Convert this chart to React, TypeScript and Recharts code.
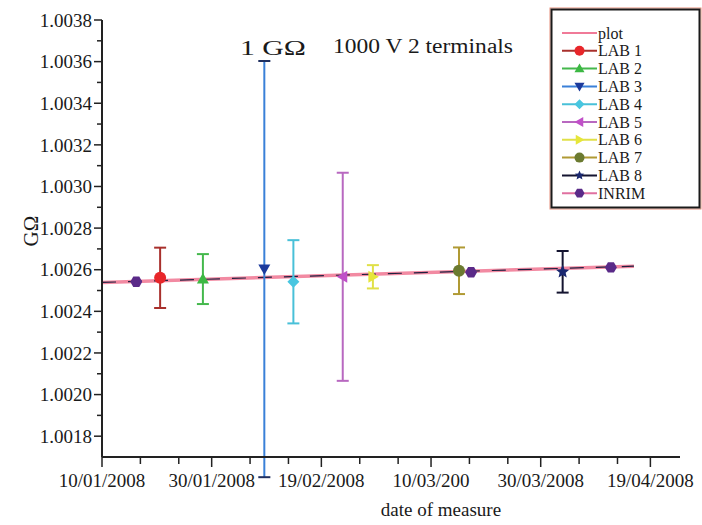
import React from 'react';
import { ComposedChart, XAxis, YAxis, Scatter, Line, ErrorBar, ReferenceLine } from 'recharts';

// ---- data (x = days after 10/01/2008) ----
const LAB_NAMES = ['LAB 1', 'LAB 2', 'LAB 3', 'LAB 4', 'LAB 5', 'LAB 6', 'LAB 7', 'LAB 8'];
const LAB_DAYS = [10.6, 18.4, 29.6, 34.9, 43.9, 49.4, 65.1, 84.0];
const LAB_VALUES = [1.002561, 1.002555, 1.002603, 1.002542, 1.002566, 1.002566, 1.002595, 1.00259];
const LAB_UNCERTAINTY = [0.000145, 0.00012, 0.001, 0.0002, 0.0005, 0.000056, 0.000112, 0.0001];

const INRIM_NAME = 'INRIM';
const INRIM_DAYS = [6.25, 67.3, 92.8];
const INRIM_VALUES = [1.002542, 1.002588, 1.002611];

const FIT_NAME = 'plot';
const FIT_DAYS = [0, 97];
const FIT_VALUES = [1.002539, 1.002617];

const X_MAJOR_TICKS = [0, 20, 40, 60, 80, 100];
const X_MINOR_TICKS = [7, 14, 27, 34, 47, 54, 67, 74, 87, 94];
const X_TICK_LABELS = ['10/01/2008', '30/01/2008', '19/02/2008', '10/03/200', '30/03/2008', '19/04/2008'];
const Y_MAJOR_TICKS = [1.0018, 1.002, 1.0022, 1.0024, 1.0026, 1.0028, 1.003, 1.0032, 1.0034, 1.0036, 1.0038];
const Y_MINOR_TICKS = [1.0019, 1.0021, 1.0023, 1.0025, 1.0027, 1.0029, 1.0031, 1.0033, 1.0035, 1.0037];

// ---- styles ----
const LAB_SHAPES = ['circle', 'triangleUp', 'triangleDown', 'diamond', 'triangleLeft', 'triangleRight', 'circle', 'star'];
const LAB_MARKER_COLORS = ['#e8262a', '#3cb843', '#1c3a9c', '#48c6e0', '#c050c8', '#e6e63a', '#6b7a30', '#1a2870'];
const LAB_BAR_COLORS = ['#a8302c', '#44b84c', '#3a80d8', '#48c0d8', '#b868c0', '#e0e048', '#b09a34', '#141430'];
const INRIM_COLOR = '#5a2a88';
const FONT = '"Liberation Serif", "Times New Roman", serif';
const AXIS_COLOR = '#222';

const labData = LAB_NAMES.map((_, i) => [{ x: LAB_DAYS[i], y: LAB_VALUES[i], err: LAB_UNCERTAINTY[i] }]);
const inrimData = INRIM_DAYS.map((d, i) => ({ x: d, y: INRIM_VALUES[i] }));
const fitData = FIT_DAYS.map((d, i) => ({ x: d, y: FIT_VALUES[i] }));
const X_TICKS = [...X_MAJOR_TICKS, ...X_MINOR_TICKS].sort((a, b) => a - b);
const Y_TICKS = [...Y_MAJOR_TICKS, ...Y_MINOR_TICKS].sort((a, b) => a - b);

function MarkerShape({ shape, cx, cy, fill, r = 6 }: any) {
  if (cx == null || cy == null) return null;
  switch (shape) {
    case 'circle':
      return <circle cx={cx} cy={cy} r={r} fill={fill} />;
    case 'triangleUp':
      return <polygon points={`${cx},${cy - r} ${cx + r},${cy + r * 0.75} ${cx - r},${cy + r * 0.75}`} fill={fill} />;
    case 'triangleDown':
      return <polygon points={`${cx},${cy + r} ${cx + r},${cy - r * 0.75} ${cx - r},${cy - r * 0.75}`} fill={fill} />;
    case 'triangleLeft':
      return <polygon points={`${cx - r},${cy} ${cx + r * 0.75},${cy - r} ${cx + r * 0.75},${cy + r}`} fill={fill} />;
    case 'triangleRight':
      return <polygon points={`${cx + r},${cy} ${cx - r * 0.75},${cy - r} ${cx - r * 0.75},${cy + r}`} fill={fill} />;
    case 'diamond':
      return <polygon points={`${cx},${cy - r} ${cx + r},${cy} ${cx},${cy + r} ${cx - r},${cy}`} fill={fill} />;
    case 'star': {
      const pts: string[] = [];
      for (let k = 0; k < 10; k++) {
        const rad = k % 2 === 0 ? r : r * 0.45;
        const a = -Math.PI / 2 + (k * Math.PI) / 5;
        pts.push(`${cx + rad * Math.cos(a)},${cy + rad * Math.sin(a)}`);
      }
      return <polygon points={pts.join(' ')} fill={fill} />;
    }
    case 'hexagon': {
      const pts: string[] = [];
      for (let k = 0; k < 6; k++) {
        const a = (k * Math.PI) / 3;
        pts.push(`${cx + r * Math.cos(a)},${cy + r * Math.sin(a)}`);
      }
      return <polygon points={pts.join(' ')} fill={fill} />;
    }
    default:
      return <circle cx={cx} cy={cy} r={r} fill={fill} />;
  }
}

const XTick = (props: any) => {
  const { x, y, payload } = props;
  const idx = X_MAJOR_TICKS.indexOf(payload.value);
  const major = idx >= 0;
  return (
    <g>
      <line x1={x} x2={x} y1={y} y2={y + (major ? 10 : 7)} stroke={AXIS_COLOR} strokeWidth={1.5} />
      {major && (
        <text x={x} y={y + 30} textAnchor="middle" fontSize={19} fontFamily={FONT} fill="#1a1a1a">
          {X_TICK_LABELS[idx]}
        </text>
      )}
    </g>
  );
};

const YTick = (props: any) => {
  const { x, y, payload } = props;
  const v = payload.value;
  const major = Y_MAJOR_TICKS.some((t) => Math.abs(t - v) < 1e-9);
  return (
    <g>
      <line x1={x} x2={x - (major ? 8 : 5)} y1={y} y2={y} stroke={AXIS_COLOR} strokeWidth={1.5} />
      {major && (
        <text x={x - 10} y={y} dy="0.35em" textAnchor="end" fontSize={19} fontFamily={FONT} fill="#1a1a1a">
          {v.toFixed(4)}
        </text>
      )}
    </g>
  );
};

const LEGEND_ITEMS = [
  { name: FIT_NAME, shape: null, marker: '', line: '#f07a98' },
  ...LAB_NAMES.map((n, i) => ({ name: n, shape: LAB_SHAPES[i], marker: LAB_MARKER_COLORS[i], line: LAB_BAR_COLORS[i] })),
  { name: INRIM_NAME, shape: 'hexagon', marker: INRIM_COLOR, line: '#e070a0' },
];

export default function App() {
  const lab3 = 2;
  const capHalf = 1.1;
  return (
    <div style={{ position: 'absolute', left: 0, top: 0, width: 702, height: 525, background: '#fff' }}>
      <ComposedChart width={702} height={525} margin={{ top: 20, right: 22, bottom: 28, left: 0 }}>
        <XAxis
          dataKey="x"
          type="number"
          domain={[0, 105.4]}
          ticks={X_TICKS}
          interval={0}
          tick={<XTick />}
          tickLine={false}
          tickSize={0}
          tickMargin={0}
          height={40}
          axisLine={{ stroke: AXIS_COLOR, strokeWidth: 2 }}
        />
        <YAxis
          dataKey="y"
          type="number"
          domain={[1.0017, 1.0038]}
          allowDataOverflow
          ticks={Y_TICKS}
          interval={0}
          tick={<YTick />}
          tickLine={false}
          tickSize={0}
          tickMargin={0}
          width={102}
          axisLine={{ stroke: AXIS_COLOR, strokeWidth: 2 }}
        />
        <Line data={fitData} dataKey="y" stroke="#f28aa2" strokeWidth={3.5} dot={false} isAnimationActive={false} legendType="none" />
        <Line data={fitData} dataKey="y" stroke="#202040" strokeWidth={1.2} strokeDasharray="14 12" dot={false} isAnimationActive={false} legendType="none" />
        <ReferenceLine
          segment={[
            { x: LAB_DAYS[lab3], y: LAB_VALUES[lab3] - LAB_UNCERTAINTY[lab3] },
            { x: LAB_DAYS[lab3], y: LAB_VALUES[lab3] + LAB_UNCERTAINTY[lab3] },
          ]}
          stroke={LAB_BAR_COLORS[lab3]}
          strokeWidth={2}
          ifOverflow="visible"
        />
        <ReferenceLine
          segment={[
            { x: LAB_DAYS[lab3] - capHalf, y: LAB_VALUES[lab3] + LAB_UNCERTAINTY[lab3] },
            { x: LAB_DAYS[lab3] + capHalf, y: LAB_VALUES[lab3] + LAB_UNCERTAINTY[lab3] },
          ]}
          stroke="#203060"
          strokeWidth={2}
          ifOverflow="visible"
        />
        <ReferenceLine
          segment={[
            { x: LAB_DAYS[lab3] - capHalf, y: LAB_VALUES[lab3] - LAB_UNCERTAINTY[lab3] },
            { x: LAB_DAYS[lab3] + capHalf, y: LAB_VALUES[lab3] - LAB_UNCERTAINTY[lab3] },
          ]}
          stroke="#203060"
          strokeWidth={2}
          ifOverflow="visible"
        />
        {LAB_NAMES.map((name, i) => (
          <Scatter
            key={name}
            name={name}
            data={labData[i]}
            dataKey="y"
            isAnimationActive={false}
            shape={(p: any) => <MarkerShape shape={LAB_SHAPES[i]} cx={p.cx} cy={p.cy} fill={LAB_MARKER_COLORS[i]} r={i === 7 ? 7 : 6} />}
          >
            {i !== lab3 && (
              <ErrorBar dataKey="err" direction="y" width={6} stroke={LAB_BAR_COLORS[i]} strokeWidth={2} isAnimationActive={false} />
            )}
          </Scatter>
        ))}
        <Scatter
          name={INRIM_NAME}
          data={inrimData}
          dataKey="y"
          isAnimationActive={false}
          shape={(p: any) => <MarkerShape shape="hexagon" cx={p.cx} cy={p.cy} fill={INRIM_COLOR} r={6} />}
        />
      </ComposedChart>
      <svg width={702} height={525} style={{ position: 'absolute', left: 0, top: 0, pointerEvents: 'none' }}>
        <text x={240} y={54.5} fontSize={21} fontFamily={FONT} fill="#1a1a1a" textLength={66} lengthAdjust="spacingAndGlyphs">
          1 GΩ
        </text>
        <text x={333} y={52.5} fontSize={20} fontFamily={FONT} fill="#1a1a1a" textLength={180} lengthAdjust="spacingAndGlyphs">
          1000 V 2 terminals
        </text>
        <text x={31} y={231} fontSize={21} fontFamily={FONT} fill="#1a1a1a" textAnchor="middle" dy="0.35em" transform="rotate(-90, 31, 231)">
          GΩ
        </text>
        <text x={441} y={516} fontSize={19} fontFamily={FONT} fill="#1a1a1a" textAnchor="middle">
          date of measure
        </text>
        <rect x={550} y={8} width={151} height={201} fill="none" stroke="#e8907c" strokeWidth={1} />
        <rect x={551.5} y={9.5} width={148} height={198} fill="#fff" stroke="#1a1a1a" strokeWidth={2} />
        {LEGEND_ITEMS.map((it, i) => {
          const cy = 33 + i * 17.8;
          return (
            <g key={it.name}>
              <line x1={562} x2={597} y1={cy} y2={cy} stroke={it.line} strokeWidth={2} />
              {it.shape && <MarkerShape shape={it.shape} cx={579.5} cy={cy} fill={it.marker} r={5} />}
              <text x={598} y={cy + 5.5} fontSize={16} fontFamily={FONT} fill="#1a1a1a">
                {it.name}
              </text>
            </g>
          );
        })}
      </svg>
    </div>
  );
}
